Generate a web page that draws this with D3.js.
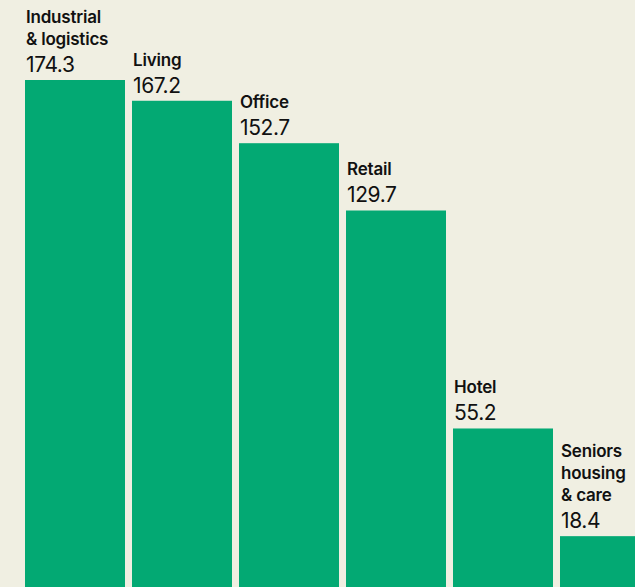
<!DOCTYPE html>
<html>
<head>
<meta charset="utf-8">
<script src="https://cdn.jsdelivr.net/npm/d3@7"></script>
<style>
  body { margin: 0; background: #f0efe2; }
  svg { display: block; }
  text { font-family: Inter, "Liberation Sans", sans-serif; fill: #111; }
</style>
</head>
<body>
<svg width="635" height="587"></svg>
<script>
const categories = ['Industrial\n& logistics', 'Living', 'Office', 'Retail', 'Hotel', 'Seniors\nhousing\n& care'];
const values = [174.3, 167.2, 152.7, 129.7, 55.2, 18.4];

const data = categories.map((c, i) => ({ cat: c, val: values[i] }));

const thisSVG = d3.select('svg');

const x = d3.scaleBand()
    .domain(categories)
    .range([25, 660])
    .paddingInner(7 / 107)
    .paddingOuter(0);

const y = d3.scaleLinear()
    .domain([0, 174.3])
    .range([590, 80]);

// bars
thisSVG.selectAll('rect')
    .data(data)
    .join('rect')
    .attr('x', d => x(d.cat))
    .attr('y', d => y(d.val))
    .attr('width', x.bandwidth())
    .attr('height', d => y(0) - y(d.val))
    .attr('fill', '#03a973');

// labels
const g = thisSVG.selectAll('g.lbl')
    .data(data)
    .join('g')
    .attr('class', 'lbl')
    .attr('transform', d => `translate(${x(d.cat) + 1},${y(d.val)})`);

g.append('text')
    .attr('y', -8)
    .style('font-size', '21px')
    .style('letter-spacing', '-0.4px')
    .text(d => d.val.toFixed(1));

g.each(function (d) {
    const lines = d.cat.split('\n');
    d3.select(this).selectAll('text.cat')
        .data(lines)
        .join('text')
        .attr('class', 'cat')
        .attr('y', (l, i) => -35 - (lines.length - 1 - i) * 22)
        .style('font-size', '17px')
        .style('font-weight', 600)
        .style('letter-spacing', '-0.2px')
        .text(l => l);
});
</script>
</body>
</html>
